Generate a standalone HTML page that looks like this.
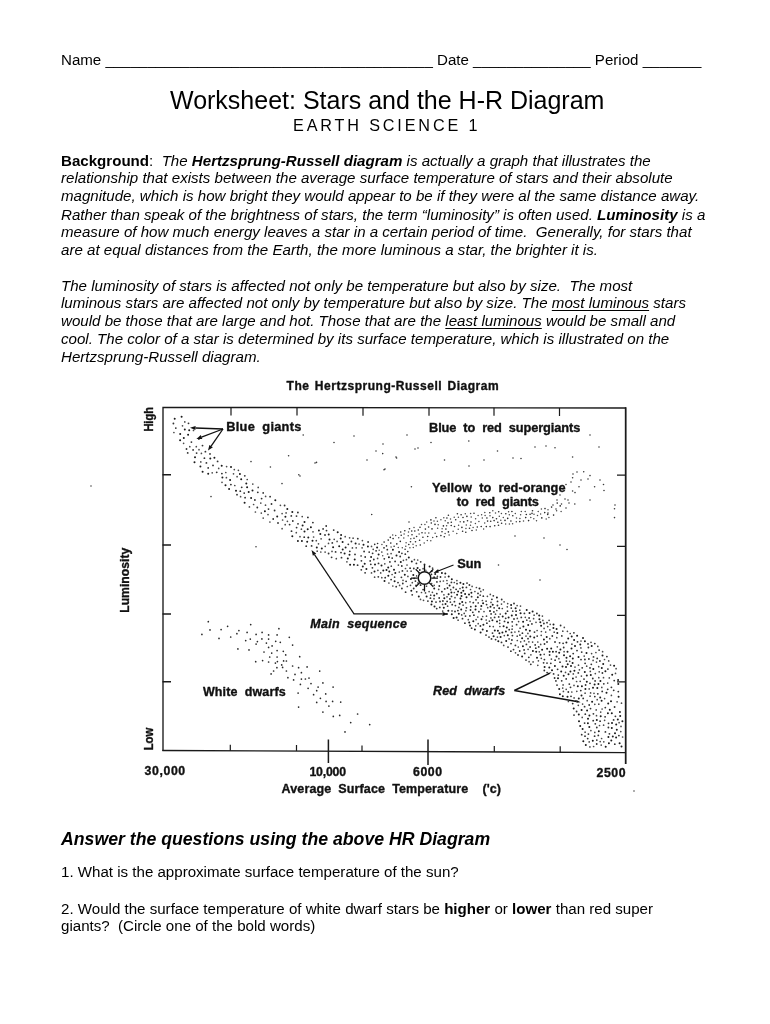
<!DOCTYPE html>
<html><head><meta charset="utf-8">
<style>
html,body{margin:0;padding:0;background:#fff;}
body{width:770px;height:1024px;position:relative;overflow:hidden;font-family:"Liberation Sans",sans-serif;color:#000;}
.l{position:absolute;left:61px;white-space:nowrap;font-size:15.1px;line-height:18px;}
.i{font-style:italic;}
.b{font-weight:bold;}
.u{text-decoration:underline;text-underline-offset:2.3px;text-decoration-thickness:1px;}
svg{position:absolute;left:0;top:0;}
svg text{font-family:"Liberation Sans",sans-serif;font-weight:bold;fill:#111;stroke:#111;stroke-width:0.35px;stroke-linejoin:round;}
</style></head><body><div id="pg" style="position:absolute;left:0;top:0;width:770px;height:1024px;will-change:transform;">
<div class="l" style="top:51px">Name _______________________________________ Date ______________ Period _______</div>
<div class="l" style="top:85px;left:170px;font-size:25px;line-height:30px;">Worksheet: Stars and the H-R Diagram</div>
<div class="l" style="top:116px;left:293px;font-size:16.2px;letter-spacing:2.85px;">EARTH SCIENCE 1</div>

<div class="l i" style="top:152px"><span class="b" style="font-style:normal">Background</span><span style="font-style:normal">:</span>&nbsp; The <span class="b">Hertzsprung-Russell diagram</span> is actually a graph that illustrates the</div>
<div class="l i" style="top:169px">relationship that exists between the average surface temperature of stars and their absolute</div>
<div class="l i" style="top:187px">magnitude, which is how bright they would appear to be if they were al the same distance away.</div>
<div class="l i" style="top:206px">Rather than speak of the brightness of stars, the term “luminosity” is often used. <span class="b">Luminosity</span> is a</div>
<div class="l i" style="top:223px">measure of how much energy leaves a star in a certain period of time.&nbsp; Generally, for stars that</div>
<div class="l i" style="top:241px">are at equal distances from the Earth, the more luminous a star, the brighter it is.</div>

<div class="l i" style="top:277px">The luminosity of stars is affected not only be temperature but also by size.&nbsp; The most</div>
<div class="l i" style="top:294px">luminous stars are affected not only by temperature but also by size. The <span class="u">most luminous</span> stars</div>
<div class="l i" style="top:312px">would be those that are large and hot. Those that are the <span class="u">least luminous</span> would be small and</div>
<div class="l i" style="top:330px">cool. The color of a star is determined by its surface temperature, which is illustrated on the</div>
<div class="l i" style="top:348px">Hertzsprung-Russell diagram.</div>

<svg width="770" height="1024" viewBox="0 0 770 1024">
<g stroke="#1a1a1a" fill="none" stroke-width="1.5" stroke-linecap="butt">
<path d="M163 751 L163 407.4 L626 408" stroke-width="1.35"/>
<path d="M625.7 407.3 L625.7 764" stroke-width="1.75"/>
<path d="M162.3 750.5 L626 752.6" stroke-width="1.4"/>
<path d="M162.5 474.7h8.5M162.5 545.0h8.5M162.5 614h8.5M162.5 681.8h8.5" stroke-width="1.6"/>
<path d="M231 407.5v8M297 407.6v8M363 407.7v8M429 407.7v8M494 407.8v8M559.5 407.9v8M626 475.2h-9M626 546.3h-9M626 615.3h-9M626 681.8h-9M230.3 750.8v-6M296.5 751.1v-6M362 751.4v-6M494.3 752.0v-6M560.2 752.3v-6" stroke-width="1.2"/>
<path d="M328.4 739.5V763M428 739.5V765" stroke-width="1.5"/>
</g>
<path d="M426.6 596.4h.01M431.3 574.4h.01M461.5 595.9h.01M371.1 556.9h.01M490.0 611.1h.01M399.1 552.1h.01M536.2 651.7h.01M539.2 615.6h.01M301.9 541.0h.01M598.4 684.0h.01M585.8 744.9h.01M180.1 440.2h.01M285.4 516.8h.01M347.8 558.5h.01M194.5 462.3h.01M618.3 684.0h.01M184.8 429.4h.01M448.7 576.5h.01M458.1 591.6h.01M560.4 649.6h.01M605.4 671.3h.01M583.3 741.3h.01M568.5 674.2h.01M483.1 603.3h.01M410.9 579.0h.01M449.6 585.4h.01M590.8 675.1h.01M329.5 539.4h.01M600.2 697.6h.01M547.1 648.7h.01M618.6 696.8h.01M593.0 687.8h.01M344.6 553.5h.01M534.2 637.6h.01M568.2 638.4h.01M580.3 644.5h.01M225.5 485.3h.01M321.8 548.4h.01M221.7 465.7h.01M532.6 611.5h.01M543.9 639.4h.01M189.2 430.3h.01M619.9 712.1h.01M615.0 733.3h.01M515.6 608.3h.01M571.7 636.4h.01M486.9 631.0h.01M588.0 718.7h.01M616.1 737.5h.01M419.0 572.9h.01M496.9 597.4h.01M587.1 710.5h.01M562.8 696.2h.01M431.9 601.5h.01M448.3 610.8h.01M574.4 670.8h.01M591.7 646.1h.01M523.4 626.4h.01M477.8 597.3h.01M552.0 670.2h.01M287.3 509.0h.01M388.2 567.4h.01M529.5 613.1h.01M549.6 651.8h.01M304.5 531.5h.01M605.7 746.7h.01M611.3 740.6h.01M297.9 541.1h.01M589.3 726.9h.01M577.1 635.7h.01M526.0 629.7h.01M275.3 500.2h.01M583.0 638.0h.01M445.3 573.5h.01M542.1 649.7h.01M302.6 525.5h.01M448.6 594.2h.01M526.7 610.1h.01M614.1 665.8h.01M541.1 625.8h.01M292.3 536.2h.01M394.6 581.2h.01M230.1 480.0h.01M573.7 708.6h.01M292.3 512.1h.01M601.8 667.9h.01M621.5 746.6h.01M578.8 714.5h.01M239.9 473.9h.01M540.5 654.7h.01M378.6 554.6h.01M202.6 471.8h.01M427.4 575.2h.01M572.8 658.6h.01M532.9 650.9h.01M611.8 728.0h.01M497.9 630.7h.01M617.8 719.5h.01M420.6 585.1h.01M469.0 594.4h.01M572.6 663.1h.01M606.5 692.7h.01M522.1 638.3h.01M188.1 434.8h.01M318.9 530.4h.01M612.2 674.7h.01M389.3 571.4h.01M277.2 516.5h.01M502.7 616.4h.01M611.0 701.3h.01M483.4 624.7h.01M505.9 631.6h.01M586.5 653.1h.01M593.3 669.1h.01M345.6 547.4h.01M418.8 596.6h.01M612.8 736.4h.01M564.0 655.2h.01M208.2 473.8h.01M482.7 629.4h.01M594.6 684.4h.01M578.8 698.6h.01M395.3 573.1h.01M384.5 580.9h.01M559.9 694.2h.01M434.2 595.4h.01M571.0 666.1h.01M183.8 438.1h.01M516.0 615.1h.01M251.1 497.9h.01M466.5 597.3h.01M529.8 630.7h.01M567.5 651.8h.01M246.3 483.4h.01M222.4 477.6h.01M553.4 627.9h.01M497.0 621.5h.01M400.8 562.0h.01M434.5 606.4h.01M592.1 701.7h.01M556.5 656.5h.01M342.6 542.1h.01M458.8 613.7h.01M616.8 729.7h.01M417.6 567.9h.01M328.7 534.4h.01M337.7 532.3h.01M523.1 621.7h.01M562.5 666.5h.01M571.5 648.6h.01M570.4 671.5h.01M429.6 566.5h.01M474.9 629.6h.01M559.2 652.8h.01M582.6 728.9h.01M462.7 587.6h.01M363.5 544.7h.01M502.4 632.5h.01M506.2 641.1h.01M355.6 543.4h.01M580.2 726.0h.01M579.0 721.3h.01M200.4 466.6h.01M310.9 527.3h.01M462.2 602.1h.01M556.6 629.1h.01M308.3 537.4h.01M404.8 574.7h.01M499.2 608.3h.01M552.9 651.8h.01M572.9 678.6h.01M558.0 678.3h.01M581.6 710.0h.01M577.8 686.2h.01M561.2 671.4h.01M609.8 709.7h.01M456.6 617.4h.01M461.2 609.5h.01M587.9 723.2h.01M451.4 592.6h.01M362.8 566.5h.01M461.3 592.8h.01M388.9 557.2h.01M494.8 630.6h.01M597.3 688.0h.01M566.0 667.1h.01M460.5 598.6h.01M511.1 605.0h.01M423.2 576.8h.01M354.7 559.5h.01M367.9 546.5h.01M475.7 606.2h.01M607.9 713.3h.01M244.6 502.8h.01M612.0 723.1h.01M214.4 457.8h.01M435.2 573.9h.01M383.3 570.6h.01M304.5 522.1h.01M236.0 490.8h.01M451.8 614.2h.01M508.0 622.6h.01M589.4 715.4h.01M307.7 529.3h.01M616.2 724.5h.01M434.2 588.5h.01M480.6 632.4h.01M598.8 731.2h.01M174.7 418.8h.01M479.5 588.6h.01M511.8 615.6h.01M574.1 640.0h.01M396.5 555.5h.01M546.7 637.1h.01M553.5 624.4h.01M522.1 656.4h.01M554.9 666.1h.01M530.3 636.4h.01M567.7 664.2h.01M388.3 575.8h.01M451.8 579.3h.01M350.1 564.7h.01M386.5 570.1h.01M592.8 740.7h.01M316.8 547.4h.01M465.1 594.0h.01M490.5 606.8h.01M473.3 621.3h.01M500.6 637.0h.01M445.5 604.0h.01M522.9 646.3h.01M506.8 627.5h.01M528.2 625.1h.01M411.3 590.7h.01M481.5 619.3h.01M411.8 561.5h.01M469.2 622.5h.01M463.4 583.9h.01M364.7 563.7h.01M586.8 675.6h.01M392.9 549.8h.01M320.3 533.9h.01M618.1 680.1h.01M602.5 655.5h.01M247.1 487.3h.01M581.9 686.2h.01M620.2 716.1h.01M508.6 617.4h.01M307.2 541.8h.01M353.9 564.8h.01M374.5 571.5h.01M459.7 603.7h.01M549.3 667.4h.01M544.6 666.9h.01M601.6 700.7h.01M471.4 592.7h.01M505.7 613.6h.01M241.2 479.2h.01M431.7 571.3h.01M540.3 622.2h.01M507.8 635.3h.01M578.5 657.1h.01M566.4 642.4h.01M453.6 618.1h.01M446.9 613.9h.01M475.5 609.4h.01M444.3 598.3h.01M342.7 549.4h.01M425.4 581.5h.01M539.4 619.2h.01M622.4 721.2h.01M463.3 590.7h.01M431.4 604.6h.01M195.0 457.3h.01M575.0 645.9h.01M470.0 625.6h.01M559.2 689.0h.01M481.3 606.0h.01M381.5 565.4h.01M441.9 572.9h.01M557.3 633.1h.01M492.7 604.7h.01M520.6 613.3h.01M264.9 511.2h.01M180.2 434.0h.01M608.2 703.5h.01M563.7 675.7h.01M248.7 492.0h.01M408.8 557.4h.01M503.6 626.2h.01M460.4 582.7h.01M498.3 641.2h.01M333.1 547.3h.01M584.9 641.3h.01M312.5 540.8h.01M394.0 569.8h.01M377.1 547.6h.01M340.7 538.5h.01M375.0 564.5h.01M551.2 648.5h.01M341.1 534.9h.01M537.0 657.8h.01M584.8 672.1h.01M457.1 594.8h.01M611.8 713.3h.01M493.6 636.3h.01M585.4 689.0h.01M443.8 607.7h.01M581.5 695.4h.01M366.4 569.1h.01M349.5 554.8h.01M231.0 467.0h.01M413.3 574.9h.01M570.1 656.3h.01M619.6 743.3h.01M181.6 416.8h.01M210.3 458.5h.01M600.4 680.9h.01M608.4 737.1h.01M603.2 664.0h.01M229.1 489.0h.01M492.4 620.3h.01M596.8 719.9h.01M499.4 633.2h.01M566.5 657.7h.01M586.8 681.8h.01M252.5 490.5h.01M567.5 696.8h.01M339.2 546.3h.01M600.7 716.3h.01M608.9 743.3h.01" stroke="#1c1c1c" stroke-width="2.00" stroke-linecap="round" fill="none"/>
<path d="M492.5 633.1h.01M241.7 487.3h.01M611.4 687.3h.01M555.9 680.9h.01M535.8 648.2h.01M436.7 608.6h.01M348.3 544.3h.01M555.1 660.2h.01M452.2 604.7h.01M341.5 557.7h.01M583.2 698.4h.01M544.5 644.0h.01M278.0 523.0h.01M372.4 567.8h.01M480.4 626.0h.01M349.8 551.3h.01M326.2 526.0h.01M304.2 537.2h.01M594.8 643.6h.01M598.3 735.4h.01M568.3 692.0h.01M291.5 531.2h.01M414.1 578.3h.01M529.1 618.0h.01M493.3 595.8h.01M188.5 423.3h.01M361.4 560.8h.01M588.9 659.0h.01M401.9 588.5h.01M216.7 472.3h.01M486.9 623.2h.01M175.8 428.1h.01M384.0 547.8h.01M486.0 635.1h.01M254.9 500.0h.01M609.4 733.8h.01M311.6 545.9h.01M274.6 510.5h.01M602.4 673.0h.01M489.8 626.3h.01M566.2 678.9h.01M332.3 542.9h.01M597.2 658.4h.01M524.7 653.4h.01M573.9 632.8h.01M608.5 723.3h.01M519.7 651.0h.01M486.6 604.6h.01M335.6 551.9h.01M439.3 586.0h.01M465.5 616.1h.01M244.8 475.8h.01M328.6 553.5h.01M389.9 561.9h.01M555.0 642.0h.01M507.5 611.2h.01M442.9 601.0h.01M268.5 509.1h.01M521.3 617.4h.01M572.7 703.6h.01M512.2 621.8h.01M370.8 564.3h.01M326.5 530.6h.01M271.5 504.0h.01M522.4 633.2h.01M582.2 667.8h.01M512.4 635.6h.01M556.1 651.7h.01M524.4 613.4h.01M244.2 493.1h.01M257.8 492.3h.01M544.3 670.5h.01M589.2 705.0h.01M593.4 713.8h.01M291.3 515.9h.01M325.0 535.0h.01M323.1 528.9h.01M361.3 569.8h.01M472.8 612.3h.01M571.0 696.3h.01M516.1 611.2h.01M373.8 559.5h.01M501.7 599.5h.01M584.6 723.1h.01M588.4 734.1h.01M292.8 521.0h.01M519.9 635.1h.01M444.7 588.9h.01M577.5 641.8h.01M453.4 587.5h.01M599.1 650.1h.01M237.0 494.7h.01M613.6 719.9h.01M560.6 625.5h.01M510.9 651.2h.01M508.0 647.1h.01M376.1 550.8h.01M584.0 679.1h.01M614.2 680.6h.01M547.0 622.7h.01M515.4 645.4h.01M289.6 524.6h.01M341.0 552.6h.01M594.8 696.6h.01M187.7 452.9h.01M221.9 473.6h.01M614.6 707.0h.01M573.2 653.6h.01M204.4 458.2h.01M588.0 643.9h.01M355.0 554.4h.01M581.7 652.1h.01M173.4 423.5h.01M547.0 642.0h.01M518.0 655.0h.01M596.8 727.5h.01M524.1 649.9h.01M263.2 492.9h.01M261.6 498.6h.01M467.0 583.1h.01M369.2 552.1h.01M378.5 563.4h.01M511.3 608.1h.01M576.6 711.5h.01M440.5 577.0h.01M405.3 554.2h.01M210.0 453.9h.01M547.0 663.1h.01M494.1 607.8h.01M614.8 744.2h.01M596.7 744.0h.01M307.9 517.4h.01M618.9 735.6h.01M436.8 593.7h.01M198.9 439.1h.01M537.2 636.1h.01M531.9 623.9h.01M489.0 637.1h.01M402.4 570.9h.01M456.1 589.3h.01M202.5 445.6h.01M603.8 683.8h.01M357.8 538.7h.01M451.5 596.4h.01M365.1 572.8h.01M585.3 714.2h.01M436.9 581.9h.01M416.7 591.8h.01M297.9 512.5h.01M466.4 607.8h.01M368.1 542.0h.01M584.9 659.5h.01M495.6 639.6h.01M491.1 613.9h.01M273.2 519.0h.01M590.5 708.6h.01M543.6 662.8h.01M466.4 587.4h.01M513.5 649.6h.01M581.0 659.6h.01M577.0 650.6h.01M618.3 691.6h.01M554.6 678.0h.01M615.4 716.3h.01M491.9 599.3h.01M378.3 576.8h.01M592.8 678.5h.01M497.5 601.4h.01M473.9 615.2h.01M494.6 617.4h.01M501.5 642.4h.01M372.6 553.3h.01M469.9 615.9h.01M331.6 557.3h.01M413.7 588.5h.01M416.4 563.4h.01M270.1 496.7h.01M457.9 610.6h.01M438.0 570.5h.01M599.9 661.0h.01M552.3 636.0h.01M514.0 603.5h.01M605.3 707.6h.01M351.4 541.5h.01M462.5 618.7h.01M455.4 605.6h.01M440.0 601.5h.01M240.3 491.2h.01M296.5 516.1h.01M550.8 663.3h.01M191.4 442.1h.01M498.7 616.9h.01M423.1 589.6h.01M193.1 449.9h.01M590.0 683.3h.01M447.5 588.0h.01M447.1 601.4h.01M547.1 672.6h.01M365.2 557.0h.01M607.9 669.1h.01M591.3 664.3h.01M306.2 546.2h.01M588.4 647.5h.01M430.6 578.3h.01M607.7 689.3h.01M613.7 690.3h.01M587.7 738.6h.01M516.6 624.7h.01M455.0 611.5h.01M245.1 497.7h.01M186.5 449.0h.01M196.6 453.1h.01M449.9 598.9h.01M561.7 680.8h.01M205.4 451.7h.01M593.2 720.7h.01M398.0 582.6h.01M511.0 643.6h.01M464.9 623.2h.01M257.3 507.5h.01M526.4 644.4h.01M557.0 685.1h.01M585.0 736.2h.01M566.4 661.1h.01M434.1 577.2h.01M497.4 605.5h.01M406.1 581.3h.01M526.0 660.1h.01M471.6 628.2h.01M471.6 596.7h.01M530.8 664.3h.01M441.9 591.7h.01M419.8 570.0h.01M491.5 638.9h.01M570.5 687.3h.01M420.7 561.8h.01M597.8 693.8h.01M605.4 731.9h.01M391.1 579.6h.01M608.4 727.5h.01M357.6 565.2h.01M470.8 606.7h.01M416.0 585.3h.01M574.0 715.1h.01M402.8 583.5h.01M544.4 659.6h.01M602.2 691.4h.01M208.2 467.9h.01M530.1 647.0h.01M578.3 672.9h.01M595.1 680.9h.01M593.5 656.9h.01M298.0 523.8h.01M606.9 656.6h.01M563.1 643.3h.01M396.2 586.7h.01M535.2 644.9h.01M395.1 561.4h.01M217.6 461.4h.01M457.0 583.7h.01M451.4 582.4h.01M505.7 618.3h.01M230.9 484.6h.01M401.4 577.3h.01M401.8 566.0h.01M560.0 662.2h.01M596.8 740.1h.01M585.1 663.3h.01M585.6 685.0h.01M284.6 505.5h.01M509.2 629.7h.01M385.2 577.7h.01M333.7 530.1h.01M473.3 602.7h.01M370.2 560.9h.01M478.0 593.4h.01M426.9 578.8h.01M528.0 638.7h.01M557.6 669.3h.01M413.8 568.5h.01M392.2 558.1h.01M469.4 585.0h.01M206.4 462.9h.01M538.7 646.9h.01M534.5 632.1h.01M405.6 592.2h.01M514.0 619.0h.01M511.5 632.4h.01M580.8 690.6h.01M590.0 667.9h.01M430.4 598.2h.01M427.9 601.1h.01M296.6 527.6h.01M213.0 465.4h.01M528.8 657.3h.01M424.5 564.5h.01M600.1 721.2h.01M387.3 549.7h.01M559.6 642.8h.01M470.5 610.0h.01M581.7 734.7h.01M569.3 684.1h.01M561.8 635.9h.01M549.6 655.0h.01M594.6 736.2h.01M563.7 647.5h.01M478.9 611.7h.01M384.3 558.8h.01M415.4 581.1h.01M605.1 716.8h.01M553.6 673.9h.01M504.5 621.4h.01M476.0 599.8h.01M364.1 551.5h.01M454.4 601.7h.01M412.2 594.8h.01M536.9 613.5h.01M418.1 582.9h.01M543.9 623.5h.01M400.2 556.5h.01M436.0 602.1h.01M439.2 598.0h.01M511.9 640.0h.01M410.1 568.2h.01M493.9 611.9h.01M584.6 706.7h.01M312.9 522.6h.01M595.3 723.8h.01M483.3 596.2h.01M558.3 675.1h.01M439.8 607.4h.01" stroke="#333" stroke-width="1.84" stroke-linecap="round" fill="none"/>
<path d="M600.2 741.6h.01M596.5 715.7h.01M263.2 518.1h.01M301.4 529.2h.01M616.1 668.7h.01M604.5 659.5h.01M420.5 599.4h.01M551.4 659.1h.01M440.2 581.4h.01M476.1 619.6h.01M234.8 485.5h.01M569.7 661.3h.01M282.1 513.6h.01M345.2 536.7h.01M566.2 689.3h.01M392.8 586.0h.01M226.6 466.6h.01M533.6 618.7h.01M590.3 671.4h.01M562.7 688.1h.01M532.6 642.1h.01M325.1 552.1h.01M240.6 496.7h.01M325.2 546.3h.01M361.1 555.9h.01M414.4 559.7h.01M317.2 551.2h.01M316.3 540.7h.01M218.7 468.4h.01M528.9 641.8h.01M512.7 611.2h.01M596.2 709.9h.01M504.3 635.6h.01M585.1 693.2h.01M517.3 640.5h.01M502.3 608.5h.01M391.1 553.6h.01M578.5 665.2h.01M484.0 611.6h.01M604.6 720.3h.01M536.0 622.3h.01M610.5 665.1h.01M349.6 537.8h.01M529.1 661.7h.01M557.3 646.8h.01M601.8 687.4h.01M285.2 524.7h.01M302.2 516.6h.01M530.1 621.1h.01M564.1 651.7h.01M430.7 595.2h.01M475.8 625.8h.01M563.1 684.9h.01M518.6 621.6h.01M597.2 699.7h.01M387.6 554.0h.01M442.7 611.1h.01M486.1 601.2h.01M589.2 688.9h.01M493.3 626.6h.01M437.4 576.3h.01M620.8 731.6h.01M515.5 652.8h.01M411.1 571.2h.01M499.7 620.3h.01M575.0 667.1h.01M594.0 693.3h.01M421.5 592.5h.01M313.6 537.0h.01M501.5 604.1h.01M465.7 602.7h.01M584.2 656.1h.01M598.8 677.7h.01M499.7 623.3h.01M518.8 631.4h.01M407.9 576.4h.01M589.2 741.9h.01M258.2 487.4h.01M371.5 546.4h.01M407.3 586.5h.01M296.3 532.7h.01M237.1 476.7h.01M286.1 512.9h.01M458.9 607.4h.01M447.1 583.5h.01M328.5 543.4h.01M282.6 520.0h.01M371.5 572.9h.01M182.5 425.8h.01M193.5 430.4h.01M590.9 730.6h.01M287.4 521.3h.01M519.8 610.2h.01M222.0 482.3h.01M537.8 642.0h.01M381.8 552.0h.01M432.6 568.2h.01M602.6 651.7h.01M184.8 421.9h.01M591.6 653.6h.01M571.9 644.2h.01M381.8 577.7h.01M406.4 559.7h.01M353.1 538.2h.01M425.5 592.9h.01M599.2 671.8h.01M576.6 681.5h.01M617.1 701.8h.01M586.7 666.2h.01M487.7 607.7h.01M269.9 522.0h.01M412.3 582.7h.01M392.1 574.5h.01M384.8 563.8h.01M517.3 618.4h.01M463.1 605.2h.01M585.1 732.2h.01M603.6 725.2h.01M483.3 589.8h.01M253.6 504.5h.01M450.4 602.2h.01M621.5 703.2h.01M362.4 540.6h.01M497.4 637.1h.01M438.7 589.4h.01M362.1 547.8h.01M380.7 572.9h.01M499.9 626.5h.01M478.2 623.7h.01M446.9 580.5h.01M524.4 640.9h.01M183.6 443.3h.01M399.3 572.0h.01M490.3 594.4h.01M233.5 473.8h.01M565.5 672.4h.01M604.6 698.6h.01M455.0 597.7h.01M486.5 616.2h.01M407.3 571.0h.01M476.4 587.5h.01M576.8 691.3h.01M541.3 658.3h.01M601.6 738.5h.01M533.1 661.9h.01M544.2 654.3h.01M458.1 620.2h.01M542.4 616.1h.01M359.1 544.0h.01M609.3 677.9h.01M514.9 632.0h.01M574.0 685.4h.01M495.5 614.2h.01M238.4 470.3h.01M491.0 602.4h.01M507.3 606.8h.01M528.1 649.3h.01M332.0 551.4h.01M603.8 741.8h.01M591.0 642.3h.01M313.0 531.8h.01M594.8 704.3h.01M418.1 578.6h.01M398.4 565.1h.01M573.3 673.9h.01M212.2 472.8h.01M611.4 695.4h.01M487.4 596.3h.01M173.9 432.5h.01M564.3 627.4h.01M423.1 568.7h.01M403.0 580.3h.01M456.9 580.6h.01M608.7 660.9h.01M452.0 610.9h.01M403.4 560.3h.01M589.9 746.9h.01M534.1 615.2h.01M249.4 506.9h.01M541.2 635.3h.01M598.8 704.2h.01M590.1 696.2h.01M443.4 581.0h.01M490.9 617.9h.01M445.1 577.0h.01M447.6 606.2h.01M388.9 583.0h.01M615.5 673.4h.01M595.9 652.5h.01M520.1 628.2h.01M526.8 620.2h.01M603.5 677.7h.01M300.0 536.7h.01M201.4 453.4h.01M537.8 665.3h.01M482.7 616.5h.01M520.7 641.8h.01M578.3 705.3h.01M597.8 646.4h.01M477.8 617.0h.01M550.2 624.3h.01M507.7 603.6h.01M621.0 726.4h.01M537.1 630.5h.01M423.5 600.3h.01M460.0 588.6h.01M454.3 592.5h.01M570.2 633.5h.01M373.2 549.3h.01M582.6 704.1h.01M512.3 626.1h.01M478.2 602.9h.01M200.8 461.9h.01M480.2 595.2h.01M593.6 746.5h.01M265.5 505.2h.01M542.9 620.4h.01M374.6 577.2h.01M450.7 589.7h.01M199.0 449.7h.01M320.8 552.0h.01M567.4 631.3h.01M549.9 629.8h.01M470.0 601.8h.01M410.5 585.3h.01M579.4 669.8h.01M480.8 591.4h.01M417.7 560.0h.01M425.8 570.4h.01M346.9 561.8h.01M280.4 505.3h.01M189.8 446.7h.01M590.6 692.9h.01M580.2 681.3h.01M539.3 651.8h.01M443.9 594.8h.01M431.6 583.6h.01M525.3 617.3h.01M391.3 566.2h.01M601.2 745.1h.01M407.0 565.0h.01M465.9 610.7h.01M549.8 638.7h.01M544.1 628.4h.01M595.3 673.6h.01M234.3 469.6h.01M587.2 700.7h.01M226.4 477.7h.01M599.5 725.5h.01M568.4 701.5h.01M334.2 539.3h.01M282.1 528.7h.01M517.2 636.2h.01M442.6 604.4h.01M526.0 636.1h.01M581.0 641.0h.01M486.2 620.0h.01M352.4 547.9h.01M429.1 591.6h.01M554.2 632.2h.01M576.0 700.8h.01M622.6 737.0h.01M504.1 601.8h.01M470.5 589.5h.01M260.8 503.1h.01M541.4 631.5h.01M480.9 609.1h.01M489.4 621.2h.01M607.7 683.1h.01M520.5 606.1h.01M318.5 543.8h.01M576.1 677.0h.01M594.8 732.4h.01M598.7 666.7h.01M472.1 586.4h.01M596.5 662.1h.01M247.2 479.5h.01M530.9 654.8h.01M500.2 614.1h.01M399.6 585.4h.01M496.8 610.5h.01M454.3 582.5h.01M558.9 658.7h.01M593.1 660.4h.01M581.4 676.1h.01M518.3 647.0h.01M225.8 472.5h.01M377.6 558.4h.01M503.7 645.4h.01M394.6 577.2h.01M527.9 633.4h.01M580.9 647.9h.01M255.4 512.0h.01M321.1 538.8h.01M432.4 592.3h.01M571.8 692.0h.01M547.7 626.6h.01M538.4 660.8h.01M574.1 697.9h.01M434.0 598.7h.01M619.1 722.7h.01M416.7 575.9h.01M356.2 547.8h.01M196.3 446.7h.01M377.9 570.3h.01M426.5 586.2h.01M562.8 631.2h.01M509.1 638.9h.01M563.4 691.4h.01M512.1 629.2h.01M482.4 600.5h.01M474.9 591.5h.01M336.3 558.7h.01M468.3 619.7h.01M252.8 484.1h.01M549.1 620.3h.01M461.7 614.9h.01M268.0 514.6h.01M434.2 585.3h.01M405.5 568.5h.01M265.6 496.4h.01M464.2 613.4h.01M517.1 605.6h.01M602.1 709.0h.01M545.7 632.1h.01M582.2 717.4h.01M261.3 513.1h.01M600.7 712.1h.01M447.0 596.8h.01M337.1 541.4h.01M540.7 644.4h.01M556.8 637.7h.01" stroke="#4a4a4a" stroke-width="1.70" stroke-linecap="round" fill="none"/>
<path d="M461.1 514.8h.01M541.8 517.9h.01M432.0 528.9h.01M436.7 536.6h.01M400.3 541.4h.01M396.8 543.9h.01M463.0 517.5h.01M425.4 529.1h.01M419.6 540.3h.01M498.5 525.2h.01M444.3 536.7h.01M487.6 521.1h.01M443.4 525.9h.01M490.1 526.6h.01M427.7 536.5h.01M435.9 517.8h.01M420.0 527.3h.01M545.0 508.6h.01M401.2 535.2h.01M420.3 545.0h.01M388.2 540.1h.01M377.6 543.5h.01M490.7 521.3h.01M551.6 507.1h.01M494.7 525.8h.01M448.4 531.9h.01M481.2 526.5h.01M454.5 526.5h.01M390.8 543.1h.01M431.3 523.0h.01M440.9 535.6h.01M507.7 518.4h.01M411.7 531.0h.01M422.9 537.3h.01M451.2 525.5h.01M415.5 541.8h.01M393.1 538.6h.01M422.0 532.7h.01M428.6 527.0h.01M512.8 515.7h.01M465.8 532.2h.01M394.1 546.2h.01M410.5 541.7h.01M462.6 531.3h.01M474.0 513.2h.01M469.5 528.2h.01M467.5 520.8h.01M448.4 515.3h.01M418.3 530.0h.01M466.9 516.4h.01M496.5 518.7h.01M505.8 513.8h.01M526.3 514.5h.01M471.0 522.0h.01M414.8 531.0h.01M414.0 538.3h.01M510.9 521.0h.01M501.6 523.2h.01M451.3 522.2h.01M412.0 534.7h.01M384.1 542.1h.01M486.9 518.0h.01M494.1 520.6h.01M532.5 510.7h.01M409.5 528.8h.01M445.9 529.1h.01M544.7 512.6h.01M505.0 520.4h.01M489.8 512.7h.01M448.0 522.9h.01M416.6 536.5h.01M486.3 526.6h.01M498.7 511.7h.01M386.5 545.9h.01M455.7 519.8h.01M457.4 513.8h.01M557.2 503.1h.01M408.8 544.5h.01M528.6 520.6h.01M461.9 527.4h.01M405.1 549.3h.01M390.3 537.4h.01M472.0 530.5h.01M530.1 514.2h.01M519.8 521.6h.01M404.8 530.8h.01M553.6 515.1h.01M525.7 517.6h.01M560.2 505.9h.01M511.9 511.5h.01M547.7 514.4h.01M477.3 527.0h.01M374.7 544.4h.01M407.8 551.6h.01M446.9 518.0h.01M442.0 531.8h.01M435.0 524.4h.01M497.8 522.2h.01M463.8 521.9h.01M400.7 532.0h.01M430.9 519.9h.01M401.9 553.4h.01M492.8 517.6h.01" stroke="#2c2c2c" stroke-width="1.64" stroke-linecap="round" fill="none"/>
<path d="M402.3 547.8h.01M500.8 520.3h.01M437.4 521.3h.01M475.6 518.7h.01M458.6 525.3h.01M458.2 529.3h.01M516.3 521.8h.01M503.3 517.6h.01M523.5 520.9h.01M495.5 513.1h.01M424.9 524.6h.01M398.7 537.8h.01M466.3 524.9h.01M520.6 514.7h.01M516.5 518.0h.01M460.2 521.7h.01M454.2 517.2h.01M476.3 529.9h.01M490.0 515.8h.01M406.1 542.8h.01M395.7 535.6h.01M501.4 513.4h.01M512.6 523.7h.01M427.3 540.5h.01M556.6 510.8h.01M481.6 514.7h.01M440.9 519.8h.01M478.9 521.4h.01M409.9 547.8h.01M505.6 523.9h.01M471.2 517.1h.01M424.2 543.0h.01M475.4 523.6h.01M403.8 538.0h.01M408.2 535.7h.01M541.4 508.9h.01M442.1 528.7h.01M445.2 520.7h.01M428.8 533.1h.01M381.9 544.4h.01M530.8 517.6h.01M421.5 524.5h.01M534.0 514.3h.01M408.5 532.0h.01M430.8 540.7h.01M548.9 517.5h.01M432.7 537.5h.01M458.4 517.2h.01M519.9 518.4h.01M414.0 527.4h.01M456.8 533.6h.01M515.3 513.6h.01M453.1 531.2h.01M484.8 512.5h.01M438.2 524.7h.01M392.7 534.9h.01M482.3 518.1h.01M434.0 521.1h.01M478.1 515.4h.01M445.1 533.6h.01M416.2 545.8h.01M508.6 511.8h.01M437.6 528.3h.01M536.5 520.7h.01M499.3 516.2h.01M398.3 547.6h.01M509.4 524.0h.01M521.3 511.5h.01M538.2 511.6h.01M537.5 515.4h.01M391.1 546.9h.01M435.1 533.2h.01M379.2 550.3h.01M404.1 533.9h.01M533.8 518.8h.01M413.3 547.5h.01M548.0 509.7h.01M485.1 515.6h.01M540.6 514.1h.01M465.3 513.7h.01M443.8 517.8h.01M525.2 511.6h.01M484.7 523.0h.01M449.1 535.0h.01M410.8 538.7h.01M465.9 528.5h.01M509.3 514.8h.01M419.1 534.1h.01M473.1 527.5h.01M470.6 513.4h.01M446.6 525.7h.01M450.5 518.9h.01M425.1 533.1h.01M492.8 510.8h.01M483.6 528.9h.01M426.7 522.1h.01M546.2 519.0h.01M470.5 525.2h.01M413.0 544.3h.01M382.7 555.8h.01M405.8 546.2h.01M561.1 511.6h.01" stroke="#4a4a4a" stroke-width="1.50" stroke-linecap="round" fill="none"/>
<path d="M208.3 621.7h.01M210.0 629.9h.01M201.9 634.4h.01M221.1 629.6h.01M227.6 626.3h.01M219.0 638.4h.01M230.7 637.0h.01M236.9 633.7h.01M238.9 630.6h.01M250.7 624.6h.01M247.1 632.4h.01M245.7 640.6h.01M250.3 639.1h.01M237.9 648.9h.01M249.0 649.9h.01M256.1 634.4h.01M262.1 632.4h.01M261.9 638.9h.01M257.4 641.6h.01M256.1 644.1h.01M268.6 634.9h.01M268.6 639.1h.01M266.4 643.1h.01M268.6 647.4h.01M272.1 645.9h.01M275.7 641.3h.01M277.1 634.9h.01M278.9 628.7h.01M280.3 642.3h.01M289.3 637.3h.01M292.6 645.1h.01M277.1 650.6h.01M283.3 651.3h.01M271.7 653.1h.01M264.0 652.0h.01M269.7 657.0h.01M277.1 657.0h.01M285.7 654.9h.01M299.7 656.7h.01M255.7 661.7h.01M262.6 660.6h.01M268.6 662.0h.01M275.4 663.1h.01M277.4 661.6h.01M283.6 660.9h.01M286.4 661.0h.01M281.7 664.9h.01M276.9 667.7h.01M282.6 667.4h.01M292.6 666.0h.01M298.6 667.7h.01M273.6 671.0h.01M271.1 673.9h.01M286.4 671.0h.01M301.4 672.7h.01M295.0 674.4h.01M287.9 677.7h.01M293.6 679.9h.01M301.4 679.1h.01M300.4 684.4h.01M307.1 666.9h.01M319.7 671.1h.01M305.4 679.0h.01M309.0 678.1h.01M311.0 683.6h.01M322.9 682.9h.01M308.1 688.3h.01M318.1 687.1h.01M333.1 687.1h.01M298.1 693.1h.01M316.7 690.7h.01M313.6 694.7h.01M325.7 693.9h.01M320.4 698.3h.01M316.7 702.4h.01M326.1 701.4h.01M332.6 701.4h.01M340.7 702.1h.01M328.9 706.1h.01M298.6 707.1h.01M322.9 712.1h.01M333.3 716.4h.01M339.7 715.4h.01M357.6 714.0h.01M350.7 722.6h.01M369.7 724.6h.01M345.0 731.9h.01" stroke="#2a2a2a" stroke-width="1.70" stroke-linecap="round" fill="none"/>
<path d="M303.2 435.0h.01M334.0 442.5h.01M354.0 436.0h.01M316.5 462.4h.01M298.8 474.8h.01M367.0 460.0h.01M376.0 451.0h.01M382.7 453.6h.01M385.0 469.0h.01M396.0 457.0h.01M407.0 435.0h.01M418.0 448.0h.01M431.0 442.5h.01M444.5 460.0h.01M468.8 441.0h.01M484.0 460.0h.01M497.5 451.0h.01M513.0 458.0h.01M535.0 447.0h.01M555.0 447.8h.01M572.6 457.0h.01M590.0 435.0h.01M599.0 447.0h.01M411.4 486.7h.01M371.7 514.5h.01M409.0 522.0h.01M288.6 455.8h.01M251.0 461.6h.01M270.4 467.0h.01M315.0 463.0h.01M300.0 476.0h.01M282.0 483.6h.01M211.0 496.6h.01M256.0 546.8h.01M383.0 444.0h.01M415.0 449.0h.01M396.6 458.0h.01M384.0 469.7h.01M469.0 466.0h.01M521.0 458.5h.01M546.0 446.0h.01M515.0 536.0h.01M544.0 538.0h.01M567.0 549.5h.01M498.5 565.0h.01M548.0 513.0h.01M532.0 513.4h.01M540.0 580.0h.01M560.0 545.0h.01M577.0 472.0h.01M572.6 477.8h.01M581.0 480.0h.01M590.0 475.6h.01M566.0 484.5h.01M572.6 491.0h.01M579.0 486.7h.01M594.6 486.7h.01M603.5 484.5h.01M568.0 500.0h.01M561.5 504.0h.01M574.8 504.0h.01M590.0 500.0h.01M614.5 508.7h.01M614.5 517.6h.01M573.0 474.0h.01M583.7 471.8h.01M588.0 479.0h.01M600.0 480.0h.01M604.0 490.5h.01M571.0 482.0h.01M575.0 492.6h.01M565.0 499.0h.01M569.0 503.0h.01M615.0 505.0h.01M556.0 509.0h.01M560.0 495.0h.01M563.0 489.0h.01M557.0 500.0h.01M553.0 505.0h.01M566.0 508.0h.01" stroke="#3a3a3a" stroke-width="1.60" stroke-linecap="round" fill="none"/>
<path d="M91.0 486.0h.01M634.0 791.0h.01" stroke="#444" stroke-width="1.60" stroke-linecap="round" fill="none"/>
<path d="M223.0 429.0L195.5 428.0" stroke="#111" stroke-width="1.3" fill="none"/><path d="M190.0 427.8L195.6 425.9L195.4 430.1Z" fill="#111"/>
<path d="M223.0 429.0L201.5 437.1" stroke="#111" stroke-width="1.3" fill="none"/><path d="M196.4 439.0L200.8 435.1L202.3 439.0Z" fill="#111"/>
<path d="M223.0 429.0L211.1 446.1" stroke="#111" stroke-width="1.3" fill="none"/><path d="M208.0 450.6L209.4 444.9L212.9 447.3Z" fill="#111"/>
<path d="M354.0 613.9L314.5 554.6" stroke="#111" stroke-width="1.2" fill="none"/><path d="M311.5 550.0L316.2 553.5L312.9 555.7Z" fill="#111"/>
<path d="M353.5 613.9L442.5 613.9" stroke="#111" stroke-width="1.2" fill="none"/><path d="M448.0 613.9L442.5 615.9L442.5 611.9Z" fill="#111"/>
<path d="M453.5 565.0L438.1 571.1" stroke="#111" stroke-width="1.1" fill="none"/><path d="M433.5 573.0L437.5 569.6L438.8 572.7Z" fill="#111"/>
<path d="M514.4 690.5L548.0 674.1" stroke="#111" stroke-width="1.4" fill="none"/><path d="M551.6 672.3L548.5 675.1L547.5 673.0Z" fill="#111"/>
<path d="M514.4 690.5L576.7 701.5" stroke="#111" stroke-width="1.4" fill="none"/><path d="M580.6 702.2L576.5 702.7L576.9 700.3Z" fill="#111"/>
<circle cx="424.5" cy="578" r="7.5" fill="#fff"/>
<circle cx="424.5" cy="578" r="6.3" fill="#fff" stroke="#111" stroke-width="1.5"/>
<path d="M431.5 578.0L438.0 578.0M429.4 582.9L433.3 586.8M424.5 585.0L424.5 591.5M419.6 582.9L415.7 586.8M417.5 578.0L411.0 578.0M419.6 573.1L415.7 569.2M424.5 571.0L424.5 564.5M429.4 573.1L433.3 569.2" stroke="#111" stroke-width="1.25" fill="none"/>
<text x="286.6" y="389.9" font-size="12.0" letter-spacing="0.521" word-spacing="1.5" style="white-space:pre" >The Hertzsprung-Russell Diagram</text>
<text x="226.3" y="430.5" font-size="12.8" letter-spacing="0.252" word-spacing="3.5" style="white-space:pre" style="white-space:pre">Blue giants</text>
<text x="429" y="431.5" font-size="12.8" letter-spacing="-0.098" word-spacing="3.5" style="white-space:pre" >Blue to red supergiants</text>
<text x="432" y="492" font-size="12.8" letter-spacing="0.038" word-spacing="3.5" style="white-space:pre" >Yellow to red-orange</text>
<text x="456.8" y="506.2" font-size="12.8" letter-spacing="-0.133" word-spacing="3.5" style="white-space:pre" >to red giants</text>
<text x="457.3" y="568.3" font-size="12.8" letter-spacing="-0.087" word-spacing="3.5" style="white-space:pre" >Sun</text>
<text x="310.3" y="627.6" font-size="12.5" letter-spacing="0.300" word-spacing="3.5" style="white-space:pre" font-style="italic">Main sequence</text>
<text x="202.9" y="695.6" font-size="12.5" letter-spacing="0.138" word-spacing="3.5" style="white-space:pre" >White dwarfs</text>
<text x="433" y="694.8" font-size="12.5" letter-spacing="0.159" word-spacing="3.5" style="white-space:pre" font-style="italic">Red dwarfs</text>
<text x="144.6" y="775.2" font-size="12.3" letter-spacing="0.597" word-spacing="3.5" style="white-space:pre" >30,000</text>
<text x="309.5" y="775.7" font-size="12.3" letter-spacing="-0.223" word-spacing="3.5" style="white-space:pre" >10,000</text>
<text x="413" y="775.7" font-size="12.3" letter-spacing="0.547" word-spacing="3.5" style="white-space:pre" >6000</text>
<text x="596.5" y="776.7" font-size="12.3" letter-spacing="0.547" word-spacing="3.5" style="white-space:pre" >2500</text>
<text x="281.6" y="793" font-size="12.5" letter-spacing="0.117" word-spacing="3.5" style="white-space:pre" style="white-space:pre">Average Surface Temperature  ('c)</text>
<g transform="translate(153.4,431.6) rotate(-90) scale(0.905,1)"><text x="0" y="0" font-size="12.2">High</text></g>
<g transform="translate(128.6,612.8) rotate(-90)"><text x="0" y="0" font-size="12.2" letter-spacing="0.015" word-spacing="3.5" style="white-space:pre" >Luminosity</text></g>
<g transform="translate(153.4,750.3) rotate(-90) scale(0.93,1)"><text x="0" y="0" font-size="12.2">Low</text></g>
</svg>

<div class="l i b" style="top:829px;font-size:17.68px;line-height:21px;">Answer the questions using the above HR Diagram</div>
<div class="l" style="top:863px">1. What is the approximate surface temperature of the sun?</div>
<div class="l" style="top:900px">2. Would the surface temperature of white dwarf stars be <span class="b">higher</span> or <span class="b">lower</span> than red super</div>
<div class="l" style="top:917px">giants?&nbsp; (Circle one of the bold words)</div>
</div></body></html>
